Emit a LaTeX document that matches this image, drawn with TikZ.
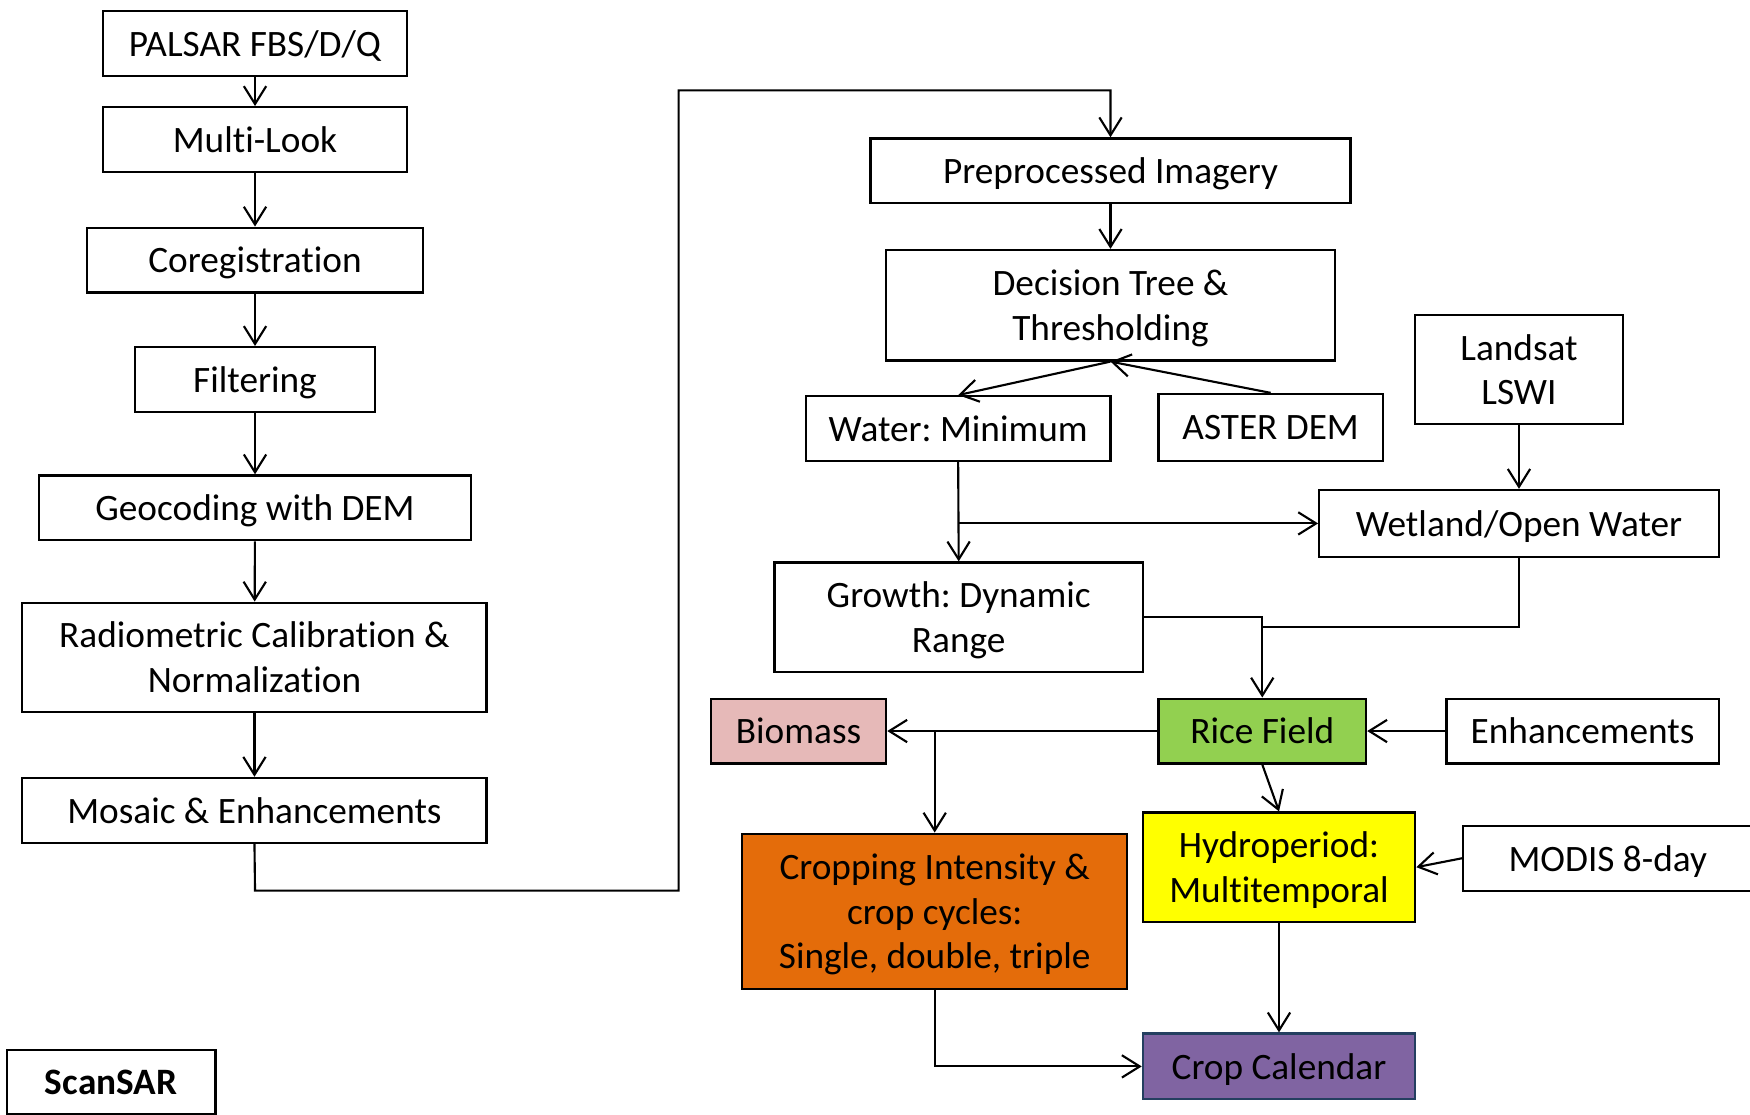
\documentclass[tikz,border=0pt]{standalone}
\usepackage{fontspec}
\setmainfont{Carlito}[Ligatures={NoCommon}]
\usetikzlibrary{arrows.meta}
\definecolor{biomass}{HTML}{E6B9B8}
\definecolor{ricegreen}{HTML}{92D050}
\definecolor{croporange}{HTML}{E46C0A}
\definecolor{hydroyellow}{HTML}{FFFF00}
\definecolor{calpurple}{HTML}{8064A2}
\definecolor{calborder}{HTML}{243F60}
\frenchspacing
\newcommand{\mybox}[7][]{%
  \pgfmathsetmacro\bxcx{(#3+#5)/2}\pgfmathsetmacro\bxcy{(#4+#6)/2}%
  \pgfmathsetmacro\bxw{(#5-#3)*0.5}\pgfmathsetmacro\bxh{(#6-#4)*0.5}%
  \node[box,#1,minimum width=\bxw pt,minimum height=\bxh pt] (#2) at (\bxcx,\bxcy) {#7};}
\begin{document}
\begin{tikzpicture}[x=0.5pt,y=-0.5pt,
  box/.style={draw=black,line width=1pt,inner sep=0pt,align=center,text depth=0pt,
    font=\fontsize{16.7pt}{20pt}\selectfont},
  conn/.style={line width=0.95pt,-{Straight Barb[length=8pt,width=10pt]}},
  plain/.style={line width=0.95pt}]
\useasboundingbox (0,0) rectangle (1568,999);
% left column
\mybox{palsar}{92}{10}{365}{68}{PALSAR FBS/D/Q}
\mybox{multi}{92}{96}{365}{154}{Multi-Look}
\mybox{coreg}{78}{204}{379}{262}{Coregistration}
\mybox{filt}{121}{311}{336}{369}{Filtering}
\mybox{geo}{35}{426}{422}{484}{Geocoding with DEM}
\mybox{radio}{20}{540}{436}{638}{Radiometric Calibration \&\\Normalization}
\mybox{mosaic}{20}{697}{436}{755}{Mosaic \& Enhancements}
\mybox[font=\fontsize{16.7pt}{20pt}\selectfont\bfseries]{scan}{6}{941}{193}{998}{ScanSAR}
% right part
\mybox{pre}{780}{124}{1210}{182}{Preprocessed Imagery}
\mybox{dt}{794}{224}{1196}{323}{Decision Tree \&\\Thresholding}
\mybox{water}{722}{355}{995}{413}{Water: Minimum}
\mybox{aster}{1038}{353}{1239}{413}{ASTER DEM}
\mybox{landsat}{1268}{282}{1454}{380}{Landsat\\LSWI}
\mybox{wet}{1182}{439}{1540}{499}{Wetland/Open Water}
\mybox{growth}{694}{504}{1024}{602}{Growth: Dynamic\\Range}
\mybox[fill=ricegreen]{rice}{1038}{626}{1224}{684}{Rice Field}
\mybox{enh}{1296}{626}{1540}{684}{Enhancements}
\mybox[fill=biomass]{bio}{637}{626}{794}{684}{Biomass}
\mybox[fill=croporange]{crop}{665}{747}{1010}{886}{Cropping Intensity \&\\crop cycles:\\Single, double, triple}
\mybox[fill=hydroyellow]{hydro}{1024}{728}{1268}{826}{Hydroperiod:\\Multitemporal}
\mybox{modis}{1311}{740}{1570}{798}{MODIS 8-day}
\mybox[fill=calpurple,draw=calborder]{cal}{1024}{926}{1268}{985}{Crop Calendar}
% coordinates
\coordinate (m1) at (228.5,798);
\coordinate (m2) at (608,798);
\coordinate (m3) at (608,81);
\coordinate (m4) at (995,81);
\coordinate (wj) at (water.south |- wet.west);
\coordinate (gj) at (1131,553);
\coordinate (rj) at (1131,562);
\coordinate (bj) at (crop.north |- rice.west);
% left column arrows
\draw[conn] (palsar) -- (multi);
\draw[conn] (multi) -- (coreg);
\draw[conn] (coreg) -- (filt);
\draw[conn] (filt) -- (geo);
\draw[conn] (geo) -- (radio);
\draw[conn] (radio) -- (mosaic);
\draw[conn] (mosaic.south) -- (m1) -- (m2) -- (m3) -- (m4) -- (pre.north);
% right arrows
\draw[conn] (pre) -- (dt);
\draw[conn] (dt.south) -- (water.north);
\draw[conn] (aster.north) -- (dt.south);
\draw[conn] (water.south) -- (growth.north);
\draw[conn] (wj) -- (wet.west);
\draw[conn] (landsat) -- (wet);
\draw[conn] (growth.east |- gj) -- (gj) -- (rice.north);
\draw[plain] (wet.south) |- (rj);
\draw[conn] (enh) -- (rice);
\draw[conn] (rice.west) -- (bio.east);
\draw[conn] (bj) -- (crop.north);
\draw[conn] (rice.south) -- (hydro.north);
\draw[conn] (modis.west) -- (hydro.east);
\draw[conn] (hydro) -- (cal);
\draw[conn] (crop.south) |- (cal.west);
\end{tikzpicture}
\end{document}
